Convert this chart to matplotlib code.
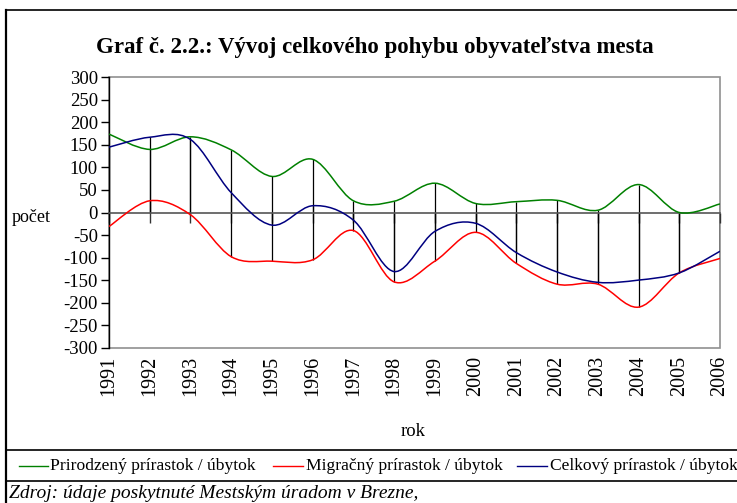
import matplotlib.pyplot as plt
import numpy as np
from matplotlib.path import Path
from matplotlib.patches import PathPatch, Rectangle
from matplotlib.lines import Line2D
from matplotlib.transforms import blended_transform_factory

years = np.arange(1991, 2007)
prirodzeny = [174, 140, 168, 139, 80, 118, 26, 25, 65, 20, 24, 27, 5, 62, 0, 19]
migracny = [-31, 26, -5, -98, -108, -105, -40, -154, -108, -44, -113, -159, -159, -210, -134, -102]
celkovy = [145, 167, 162, 44, -28, 15, -17, -131, -42, -24, -89, -132, -155, -150, -134, -86]
series_names = ["Prirodzený prírastok / úbytok", "Migračný prírastok / úbytok",
                "Celkový prírastok / úbytok"]
colors = ["#008000", "#ff0000", "#000080"]

W, H = 737, 503
plt.rcParams['font.family'] = ['Liberation Serif', 'DejaVu Serif']
plt.rcParams['axes.unicode_minus'] = False


def fx(px):
    return px / W


def fy(py):
    return 1 - py / H


def smooth_path(x, y):
    # excel-style smoothed line: cubic bezier through every point
    x = np.asarray(x, float)
    y = np.asarray(y, float)
    pts = np.column_stack([x, y])
    n = len(pts)
    verts = [pts[0]]
    codes = [Path.MOVETO]
    for i in range(n - 1):
        p0 = pts[i - 1] if i > 0 else pts[i]
        p1, p2 = pts[i], pts[i + 1]
        p3 = pts[i + 2] if i + 2 < n else pts[i + 1]
        c1 = p1 + (p2 - p0) / 6
        c2 = p2 - (p3 - p1) / 6
        verts += [c1, c2, p2]
        codes += [Path.CURVE4] * 3
    return Path(verts, codes)


fig = plt.figure(figsize=(W / 100, H / 100), dpi=100)
ax = fig.add_axes([fx(109), fy(347.7), fx(720 - 109), (347.7 - 77.3) / H])

ax.set_xlim(years[0], years[-1])
ax.set_ylim(-300, 300)

# drop lines to the category axis
for vals in (prirodzeny, migracny, celkovy):
    ax.vlines(years, 0, vals, color='black', lw=0.9, zorder=2)

for vals, c in zip((prirodzeny, migracny, celkovy), colors):
    ax.add_patch(PathPatch(smooth_path(years, vals), facecolor='none',
                           edgecolor=c, lw=1.1, zorder=3))

# plot area border
ax.add_patch(Rectangle((0, 0), 1, 1, transform=ax.transAxes, fill=False,
                       edgecolor='#909090', lw=1.2, zorder=1, clip_on=False))
for s in ('top', 'right'):
    ax.spines[s].set_visible(False)
ax.spines['left'].set_color('black')
ax.spines['left'].set_linewidth(1.0)
ax.spines['bottom'].set_position(('data', 0))
ax.spines['bottom'].set_color('#555555')
ax.spines['bottom'].set_linewidth(1.2)

ax.set_yticks(np.arange(-300, 301, 50))
ax.tick_params(axis='y', direction='out', length=6, width=1, pad=2, labelsize=13.5)
ax.set_xticks(years)
ax.tick_params(axis='x', direction='out', length=7, width=1, color='#333333',
               labelbottom=False)

trans = blended_transform_factory(ax.transData, ax.transAxes)
for yr in years:
    ax.text(yr, -0.03, str(yr), transform=trans, rotation=90, ha='center',
            va='top', fontsize=14.5)

fig.text(fx(413), fy(432), "rok", ha='center', va='center', fontsize=13.5)
fig.text(fx(12), fy(217), "počet", ha='left', va='center', fontsize=13)
fig.text(fx(375), fy(47), "Graf č. 2.2.: Vývoj celkového pohybu obyvateľstva mesta",
         ha='center', va='center', fontsize=16.5, fontweight='bold')

# legend row
leg_y = fy(466)
for name, c, x0, x1, xt in zip(series_names, colors, (19, 273, 517), (48, 303, 547),
                               (50, 306.5, 550)):
    fig.add_artist(Line2D([fx(x0), fx(x1)], [leg_y, leg_y], color=c, lw=1.0,
                          transform=fig.transFigure))
    fig.text(fx(xt), leg_y, name, ha='left', va='center', fontsize=12.6)

# outer frame and table lines
frame = dict(color='black', transform=fig.transFigure)
fig.add_artist(Line2D([fx(6), fx(6)], [fy(10), 0], lw=1.6, **frame))
fig.add_artist(Line2D([fx(6), 1], [fy(10), fy(10)], lw=1.2, **frame))
fig.add_artist(Line2D([fx(6), 1], [fy(450), fy(450)], lw=1.2, **frame))
fig.add_artist(Line2D([fx(6), 1], [fy(481), fy(481)], lw=1.2, **frame))

fig.text(fx(9), fy(494), "Zdroj: údaje poskytnuté Mestským úradom v Brezne,",
         ha='left', va='center', fontsize=14, style='italic')

fig.savefig("out.png", dpi=100)
